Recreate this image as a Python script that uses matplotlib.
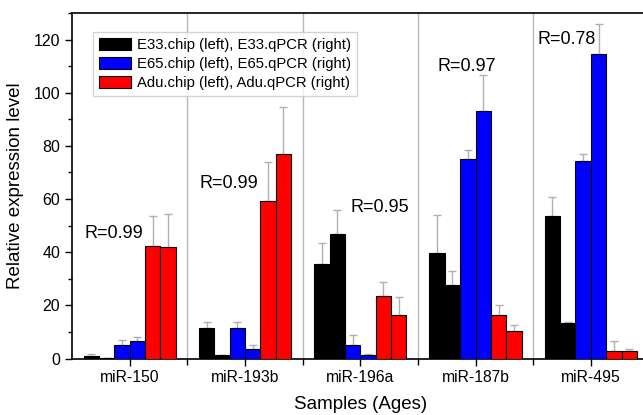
import numpy as np
import matplotlib.pyplot as plt
from matplotlib.ticker import MultipleLocator, FixedLocator

plt.rcParams['font.family'] = ['Liberation Sans', 'DejaVu Sans']

samples = ['miR-150', 'miR-193b', 'miR-196a', 'miR-187b', 'miR-495']
r_labels = ['R=0.99', 'R=0.99', 'R=0.95', 'R=0.97', 'R=0.78']

e33_chip = [1.0, 11.3, 35.7, 39.8, 53.5]
e33_chip_err = [0.8, 2.4, 7.9, 14.2, 7.1]
e33_qpcr = [0.3, 1.2, 47.0, 27.6, 13.3]
e33_qpcr_err = [0.0, 0.3, 9.0, 5.2, 0.3]
e65_chip = [5.0, 11.4, 5.0, 75.0, 74.3]
e65_chip_err = [1.9, 2.3, 3.9, 3.3, 2.5]
e65_qpcr = [6.4, 3.5, 1.4, 93.0, 114.7]
e65_qpcr_err = [1.8, 1.6, 0.4, 13.8, 11.1]
adu_chip = [42.5, 59.1, 23.5, 16.2, 2.9]
adu_chip_err = [11.3, 14.9, 5.1, 4.1, 3.5]
adu_qpcr = [42.0, 76.9, 16.2, 10.5, 2.9]
adu_qpcr_err = [12.3, 17.6, 6.8, 2.1, 0.5]
r_y = [47, 66, 57, 110, 120]
r_x = [-0.14, -0.14, 0.17, -0.08, -0.21]

series = [
    (e33_chip, e33_chip_err, 'black', 'E33.chip (left), E33.qPCR (right)'),
    (e33_qpcr, e33_qpcr_err, 'black', None),
    (e65_chip, e65_chip_err, '#0000ff', 'E65.chip (left), E65.qPCR (right)'),
    (e65_qpcr, e65_qpcr_err, '#0000ff', None),
    (adu_chip, adu_chip_err, '#ff0000', 'Adu.chip (left), Adu.qPCR (right)'),
    (adu_qpcr, adu_qpcr_err, '#ff0000', None),
]

fig = plt.figure(figsize=(6.43, 4.15), dpi=100)
ax = fig.add_axes([72 / 643, 1 - 358.5 / 415, 576.5 / 643, 345.5 / 415])

x = np.arange(len(samples))
w = 0.8 / 6
for i, (vals, errs, col, lab) in enumerate(series):
    pos = x - 0.4 + w * (i + 0.5)
    ax.bar(pos, vals, w, color=col, edgecolor='black', linewidth=0.8,
           label=lab, zorder=3)
    ax.errorbar(pos, vals, yerr=[np.zeros(len(errs)), errs], fmt='none',
                ecolor='#b0b0b0', elinewidth=1, capsize=3, capthick=1, zorder=2)

for xi in np.arange(0.5, len(samples) - 0.5, 1):
    ax.axvline(xi, color='#b8b8b8', linewidth=1, zorder=1)

for i, t in enumerate(r_labels):
    ax.text(i + r_x[i], r_y[i], t, fontsize=13, ha='center', va='center')

ax.set_xlim(-0.5, 4.5)
ax.set_ylim(0, 130)
ax.set_xticks(x)
ax.set_xticklabels(samples, fontsize=11.3)
ax.xaxis.set_minor_locator(FixedLocator(np.arange(0.5, 4.5, 1)))
ax.yaxis.set_major_locator(MultipleLocator(20))
ax.yaxis.set_minor_locator(MultipleLocator(10))
ax.tick_params(axis='y', which='major', labelsize=11.5, length=5, width=1)
ax.tick_params(axis='y', which='minor', length=3, width=1)
ax.tick_params(axis='x', which='major', length=5, width=1)
ax.tick_params(axis='x', which='minor', length=4, width=1)
ax.spines['right'].set_visible(False)
for s in ['left', 'top', 'bottom']:
    ax.spines[s].set_linewidth(1.2)

ax.set_xlabel('Samples (Ages)', fontsize=13.5, labelpad=8)
ax.set_ylabel('Relative expression level', fontsize=13.5, labelpad=7)

handles, labels = ax.get_legend_handles_labels()
leg = ax.legend(handles, labels, loc='upper left', bbox_to_anchor=(0.036, 0.945),
                borderaxespad=0, fontsize=10.7, frameon=True, fancybox=False,
                edgecolor='#c8c8c8', handlelength=2.2, handleheight=0.9,
                borderpad=0.4, labelspacing=0.32, handletextpad=0.35)
leg.get_frame().set_linewidth(1)

fig.savefig('out.png', dpi=100)
